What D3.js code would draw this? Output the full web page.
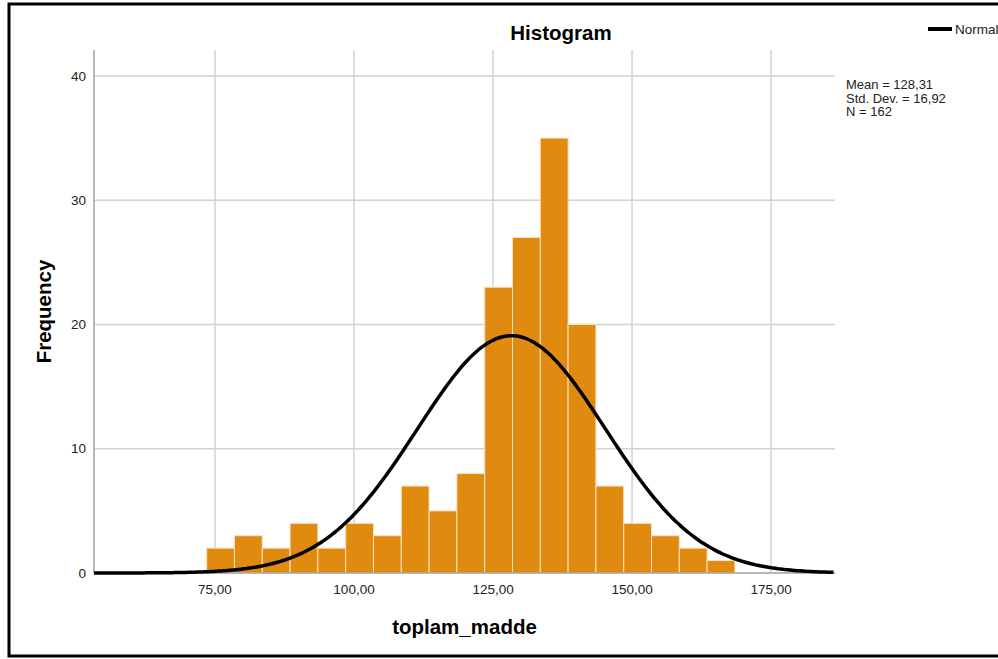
<!DOCTYPE html>
<html>
<head>
<meta charset="utf-8">
<script src="https://cdn.jsdelivr.net/npm/d3@7"></script>
<style>
  body { margin: 0; background: #fff; }
  svg { display: block; font-family: "Liberation Sans", Arial, sans-serif; }
</style>
</head>
<body>
<div id="chart"></div>
<script>
// histogram data: bin starts (width 5) and counts
const BIN_START = [73.5, 78.5, 83.5, 88.5, 93.5, 98.5, 103.5, 108.5, 113.5, 118.5,
                   123.5, 128.5, 133.5, 138.5, 143.5, 148.5, 153.5, 158.5, 163.5];
const COUNTS = [2, 3, 2, 4, 2, 4, 3, 7, 5, 8, 23, 27, 35, 20, 7, 4, 3, 2, 1];
const BIN_WIDTH = 5;

const X_TICKS = [75, 100, 125, 150, 175];
const Y_TICKS = [0, 10, 20, 30, 40];

const MEAN = 128.31, SD = 16.92, N = 162;
const STATS = ["Mean = 128,31", "Std. Dev. = 16,92", "N = 162"];

const W = 998, H = 659;
const PLOT = { left: 94, right: 835, top: 50, bottom: 573 };

const svg = d3.select("#chart").append("svg")
    .attr("width", W)
    .attr("height", H);

// outer frame
svg.append("rect")
    .attr("x", 9).attr("y", 4)
    .attr("width", 1000).attr("height", 652)
    .attr("fill", "none")
    .attr("stroke", "#000")
    .attr("stroke-width", 3);

const xScale = d3.scaleLinear()
    .domain([53.24, 186.5])
    .range([PLOT.left, PLOT.right]);

const yScale = d3.scaleLinear()
    .domain([0, 42.09])
    .range([PLOT.bottom, PLOT.top]);

const numFmt = d => d3.format(".2f")(d).replace(".", ",");

// grid lines
svg.append("g").selectAll("line")
    .data(Y_TICKS.slice(1))
    .enter().append("line")
    .attr("x1", PLOT.left).attr("x2", PLOT.right)
    .attr("y1", d => yScale(d)).attr("y2", d => yScale(d))
    .attr("stroke", "#d2d2d2").attr("stroke-width", 1.5);

svg.append("g").selectAll("line")
    .data(X_TICKS)
    .enter().append("line")
    .attr("x1", d => xScale(d)).attr("x2", d => xScale(d))
    .attr("y1", PLOT.top).attr("y2", PLOT.bottom)
    .attr("stroke", "#d2d2d2").attr("stroke-width", 1.5);

// bars
svg.append("g").selectAll("rect")
    .data(COUNTS)
    .enter().append("rect")
    .attr("x", (d, i) => xScale(BIN_START[i]))
    .attr("y", d => yScale(d))
    .attr("width", (d, i) => xScale(BIN_START[i] + BIN_WIDTH) - xScale(BIN_START[i]))
    .attr("height", d => yScale(0) - yScale(d))
    .attr("fill", "#e08b10")
    .attr("stroke", "#fbe2bd")
    .attr("stroke-width", 1);

// axes lines
svg.append("line")
    .attr("x1", PLOT.left).attr("x2", PLOT.left)
    .attr("y1", PLOT.top).attr("y2", PLOT.bottom)
    .attr("stroke", "#a0a0a0").attr("stroke-width", 1.5);
svg.append("line")
    .attr("x1", PLOT.left).attr("x2", PLOT.right)
    .attr("y1", PLOT.bottom).attr("y2", PLOT.bottom)
    .attr("stroke", "#a0a0a0").attr("stroke-width", 1.5);

// normal curve
const scaleFactor = N * BIN_WIDTH / (SD * Math.sqrt(2 * Math.PI));
const curveX = d3.range(xScale.domain()[0], xScale.domain()[1] + 0.01, 0.5);
const line = d3.line()
    .x(d => xScale(d))
    .y(d => yScale(scaleFactor * Math.exp(-0.5 * Math.pow((d - MEAN) / SD, 2))))
    .curve(d3.curveBasis);
svg.append("path")
    .datum(curveX)
    .attr("d", line)
    .attr("fill", "none")
    .attr("stroke", "#000")
    .attr("stroke-width", 3.5);

// tick labels
svg.append("g").selectAll("text")
    .data(Y_TICKS)
    .enter().append("text")
    .attr("x", 86)
    .attr("y", d => yScale(d))
    .attr("dy", "0.35em")
    .attr("text-anchor", "end")
    .attr("font-size", "13.5px")
    .attr("fill", "#222")
    .text(d => d);

svg.append("g").selectAll("text")
    .data(X_TICKS)
    .enter().append("text")
    .attr("x", d => xScale(d))
    .attr("y", 594)
    .attr("text-anchor", "middle")
    .attr("font-size", "13.5px")
    .attr("fill", "#222")
    .text(numFmt);

// titles
svg.append("text")
    .attr("x", 561).attr("y", 40)
    .attr("text-anchor", "middle")
    .attr("font-size", "20.5px")
    .attr("font-weight", "bold")
    .text("Histogram");

svg.append("text")
    .attr("x", (PLOT.left + PLOT.right) / 2).attr("y", 634)
    .attr("text-anchor", "middle")
    .attr("font-size", "20.5px")
    .attr("font-weight", "bold")
    .text("toplam_madde");

svg.append("text")
    .attr("transform", `translate(51,${(PLOT.top + PLOT.bottom) / 2}) rotate(-90)`)
    .attr("text-anchor", "middle")
    .attr("font-size", "20.5px")
    .attr("font-weight", "bold")
    .text("Frequency");

// legend
svg.append("line")
    .attr("x1", 928).attr("x2", 952)
    .attr("y1", 29).attr("y2", 29)
    .attr("stroke", "#000").attr("stroke-width", 4);
svg.append("text")
    .attr("x", 955).attr("y", 29)
    .attr("dy", "0.35em")
    .attr("font-size", "13.5px")
    .attr("fill", "#222")
    .text("Normal");

// stats
svg.append("g").selectAll("text")
    .data(STATS)
    .enter().append("text")
    .attr("x", 846)
    .attr("y", (d, i) => 89 + i * 13.5)
    .attr("font-size", "13px")
    .attr("fill", "#222")
    .text(d => d);
</script>
</body>
</html>
